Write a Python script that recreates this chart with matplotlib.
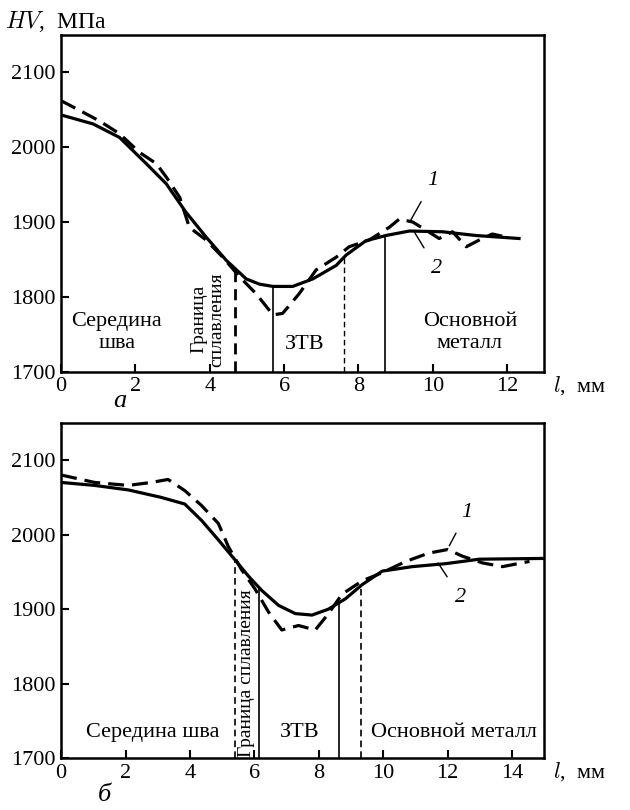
import numpy as np
import matplotlib
matplotlib.use("Agg")
import matplotlib.pyplot as plt

plt.rcParams["font.family"] = ["Liberation Serif", "DejaVu Serif"]
plt.rcParams["mathtext.fontset"] = "cm"

# panel a: hardness profile, curve 1 (dashed) and curve 2 (solid)
a_x1 = [0.0, 0.5, 1.03, 1.57, 2.11, 2.56, 2.83, 3.19, 3.45, 3.9, 4.35, 4.8, 5.25, 5.7,
        5.96, 6.4, 6.86, 7.4, 7.75, 8.29, 8.83, 9.1, 9.46, 9.82, 10.17, 10.53, 10.9,
        11.25, 11.6, 11.97]
a_y1 = [2062, 2049, 2035, 2018, 1993, 1978, 1960, 1933, 1893, 1876, 1853, 1827, 1804, 1776,
        1778, 1804, 1836, 1853, 1867, 1876, 1893, 1904, 1900, 1889, 1878, 1887, 1867,
        1876, 1884, 1880]
a_x2 = [0.0, 0.86, 1.57, 2.29, 2.83, 3.36, 3.9, 4.44, 4.98, 5.34, 5.7, 6.23, 6.77, 7.4,
        7.67, 8.2, 8.74, 9.37, 10.26, 11.16, 12.32]
a_y2 = [2043, 2031, 2013, 1978, 1951, 1913, 1880, 1849, 1824, 1817, 1814, 1814, 1824, 1842,
        1856, 1875, 1882, 1888, 1887, 1882, 1878]
a_bounds_dashed = [4.68, 7.62]
a_bounds_solid = [5.71, 8.72]

# panel b
b_x1 = [0.0, 1.04, 2.08, 2.8, 3.32, 3.84, 4.36, 4.88, 5.19, 5.6, 6.02, 6.44, 6.85, 7.37,
        7.89, 8.3, 8.72, 9.35, 9.97, 10.7, 11.4, 12.0, 12.46, 13.08, 13.7, 14.54]
b_y1 = [2080, 2070, 2066, 2070, 2074, 2059, 2039, 2015, 1984, 1953, 1927, 1896, 1872, 1878,
        1872, 1894, 1920, 1938, 1949, 1964, 1975, 1980, 1971, 1962, 1957, 1964]
b_x2 = [0.0, 1.04, 2.08, 3.1, 3.84, 4.36, 4.88, 5.4, 5.82, 6.23, 6.75, 7.27, 7.79, 8.3,
        8.83, 9.35, 9.97, 10.9, 11.94, 12.98, 14.95]
b_y2 = [2070, 2066, 2060, 2050, 2041, 2019, 1993, 1966, 1944, 1925, 1905, 1894, 1892, 1900,
        1914, 1933, 1951, 1957, 1961, 1967, 1968]
b_bounds_dashed = [5.4, 9.31]
b_bounds_solid = [6.15, 8.64]

y_ticks = [1700, 1800, 1900, 2000, 2100]
FS = 16

fig = plt.figure(figsize=(6.3, 8.1), dpi=100)
ax_a = fig.add_axes([0.097, 0.541, 0.767, 0.416])
ax_b = fig.add_axes([0.097, 0.064, 0.767, 0.414])


def style_axes(ax, xmax, xticks):
    ax.set_xlim(0, xmax)
    ax.set_ylim(1700, 2150)
    ax.set_xticks(xticks)
    ax.set_yticks(y_ticks)
    ax.tick_params(direction="in", length=6, width=1.5, labelsize=FS, pad=4)
    for s in ax.spines.values():
        s.set_linewidth(1.8)


def draw_curves(ax, x1, y1, x2, y2):
    ax.plot(x1, y1, color="black", lw=2.3, dashes=(5, 2.5))
    ax.plot(x2, y2, color="black", lw=2.3)


def draw_bounds(ax, x2, y2, dashed, solid, lw_dash):
    for x, lw in zip(dashed, lw_dash):
        ax.vlines(x, 1700, np.interp(x, x2, y2), colors="black", lw=lw, linestyles=(0, (4, 2.5)))
    for x in solid:
        ax.vlines(x, 1700, np.interp(x, x2, y2), colors="black", lw=1.2)


def curve_label(ax, text, xy, xytext):
    ax.annotate(text, xy=xy, xytext=xytext, fontsize=FS, style="italic", ha="center",
                va="center", arrowprops=dict(arrowstyle="-", lw=1, shrinkA=7, shrinkB=0))


# --- panel a ---
style_axes(ax_a, 13, [0, 2, 4, 6, 8, 10, 12])
draw_curves(ax_a, a_x1, a_y1, a_x2, a_y2)
draw_bounds(ax_a, a_x2, a_y2, a_bounds_dashed, a_bounds_solid, [2.0, 1.0])
ax_a.text(1.5, 1753, "Середина\nшва", ha="center", va="center", fontsize=FS, linespacing=1.2)
ax_a.text(3.95, 1770, "Граница\nсплавления", ha="center", va="center", rotation=90,
          fontsize=FS - 2, linespacing=1.05)
ax_a.text(6.55, 1736, "ЗТВ", ha="center", va="center", fontsize=FS)
ax_a.text(11.0, 1753, "Основной\nметалл", ha="center", va="center", fontsize=FS, linespacing=1.2)
curve_label(ax_a, "1", (9.4, 1902), (10.0, 1955))
curve_label(ax_a, "2", (9.5, 1887), (10.1, 1838))

# --- panel b ---
style_axes(ax_b, 15, [0, 2, 4, 6, 8, 10, 12, 14])
draw_curves(ax_b, b_x1, b_y1, b_x2, b_y2)
draw_bounds(ax_b, b_x2, b_y2, b_bounds_dashed, b_bounds_solid, [1.2, 1.2])
ax_b.text(2.85, 1735, "Середина шва", ha="center", va="center", fontsize=FS)
ax_b.text(5.77, 1702, "Граница сплавления", ha="center", va="bottom", rotation=90,
          fontsize=FS - 2)
ax_b.text(7.4, 1735, "ЗТВ", ha="center", va="center", fontsize=FS)
ax_b.text(12.2, 1735, "Основной металл", ha="center", va="center", fontsize=FS)
curve_label(ax_b, "1", (12.05, 1985), (12.6, 2030))
curve_label(ax_b, "2", (11.7, 1962), (12.4, 1916))

# axis labels and panel letters
fig.text(0.008, 0.973, "$HV$,  МПа", fontsize=FS + 1, va="center")
for y in (0.524, 0.047):
    fig.text(0.877, y, "$l$,  мм", fontsize=FS, va="center")
fig.text(0.18, 0.505, "а", fontsize=FS + 3, style="italic", va="center")
fig.text(0.155, 0.018, "б", fontsize=FS + 3, style="italic", va="center")

fig.savefig("out.png", dpi=100)
